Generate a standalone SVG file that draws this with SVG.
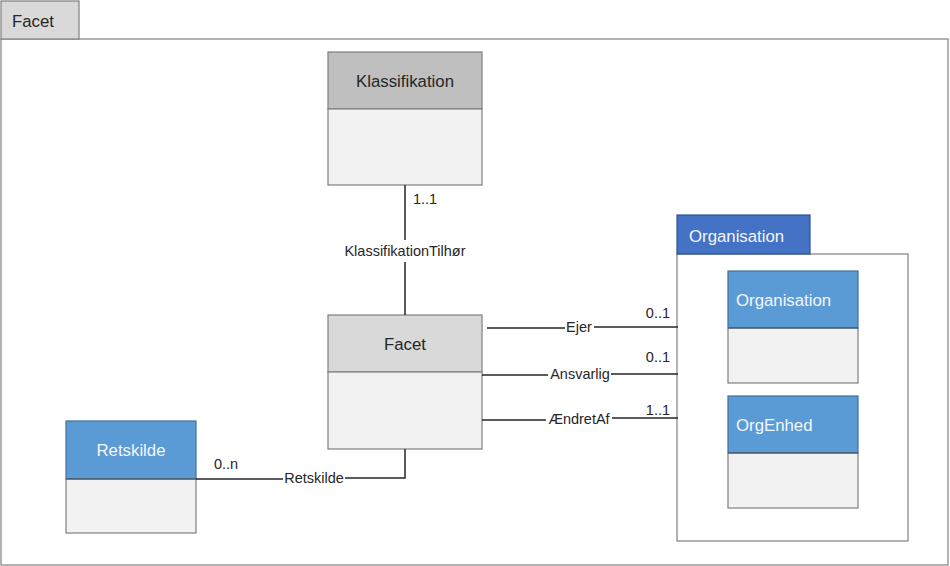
<svg xmlns="http://www.w3.org/2000/svg" width="950" height="566" viewBox="0 0 950 566">
<style>
.t{font-family:"Liberation Sans",Arial,sans-serif;font-size:16.8px;fill:#262626}
.tw{font-family:"Liberation Sans",Arial,sans-serif;font-size:16.8px;fill:#f2f7fc}
.l{font-family:"Liberation Sans",Arial,sans-serif;font-size:14.5px;fill:#262626}
.box{stroke:#7f7f7f;stroke-width:1.2}
.body{fill:#f2f2f2;stroke:#7f7f7f;stroke-width:1.2}
.conn{stroke:#262626;stroke-width:1.5;fill:none}
</style>
<rect width="950" height="566" fill="#ffffff"/>
<g id="frame">
<rect x="1" y="39" width="947" height="526" fill="#ffffff" class="box"/>
<rect x="1" y="1" width="78" height="38" fill="#d9d9d9" class="box"/>
<text x="12" y="27" class="t" font-size="19px">Facet</text>
</g>
<g id="pkg-organisation">
<rect x="677" y="254" width="231" height="287" fill="#ffffff" class="box"/>
<rect x="677" y="215" width="133" height="39" fill="#4472c4" stroke="#2f528f" stroke-width="1.2"/>
<text x="689" y="242" class="tw" font-size="19px">Organisation</text>
</g>
<g id="klassifikation">
<rect x="328" y="52" width="154" height="57" fill="#bfbfbf" class="box"/>
<rect x="328" y="109" width="154" height="76" class="body"/>
<text x="405" y="87" class="t" text-anchor="middle">Klassifikation</text>
</g>
<g id="facet">
<rect x="328" y="315" width="154" height="57" fill="#d9d9d9" class="box"/>
<rect x="328" y="372" width="154" height="77" class="body"/>
<text x="405" y="350" class="t" text-anchor="middle">Facet</text>
</g>
<g id="organisation">
<rect x="728" y="271" width="130" height="57" fill="#5b9bd5" stroke="#41719c" stroke-width="1.2"/>
<rect x="728" y="328" width="130" height="55" class="body"/>
<line x1="728" y1="328" x2="858" y2="328" stroke="#2e4a6b" stroke-width="1.2"/>
<text x="736" y="306" class="tw">Organisation</text>
</g>
<g id="orgenhed">
<rect x="728" y="396" width="130" height="57" fill="#5b9bd5" stroke="#41719c" stroke-width="1.2"/>
<rect x="728" y="453" width="130" height="55" class="body"/>
<line x1="728" y1="453" x2="858" y2="453" stroke="#2e4a6b" stroke-width="1.2"/>
<text x="736" y="431" class="tw">OrgEnhed</text>
</g>
<g id="retskilde">
<rect x="66" y="421" width="130" height="58" fill="#5b9bd5" stroke="#41719c" stroke-width="1.2"/>
<rect x="66" y="479" width="130" height="54" class="body"/>
<line x1="66" y1="479" x2="196" y2="479" stroke="#2e4a6b" stroke-width="1.2"/>
<text x="131" y="456" class="tw" text-anchor="middle">Retskilde</text>
</g>
<g id="connectors">
<path class="conn" d="M405 185 V240 M405 262 V315"/>
<text x="413" y="204" class="l">1..1</text>
<text x="405" y="256" class="l" text-anchor="middle">KlassifikationTilhør</text>
<path class="conn" d="M487 328 H565 M594 327 H678"/>
<text x="579" y="332" class="l" text-anchor="middle">Ejer</text>
<text x="670" y="318" class="l" text-anchor="end">0..1</text>
<path class="conn" d="M482 375 H548 M611 374 H678"/>
<text x="580" y="379" class="l" text-anchor="middle">Ansvarlig</text>
<text x="670" y="362" class="l" text-anchor="end">0..1</text>
<path class="conn" d="M482 420 H546 M612 418 H678"/>
<text x="579" y="424" class="l" text-anchor="middle">ÆndretAf</text>
<text x="670" y="415" class="l" text-anchor="end">1..1</text>
<path class="conn" d="M196 479 H283 M345 478 H405 V449"/>
<text x="314" y="483" class="l" text-anchor="middle">Retskilde</text>
<text x="214" y="469" class="l">0..n</text>
</g>
</svg>
